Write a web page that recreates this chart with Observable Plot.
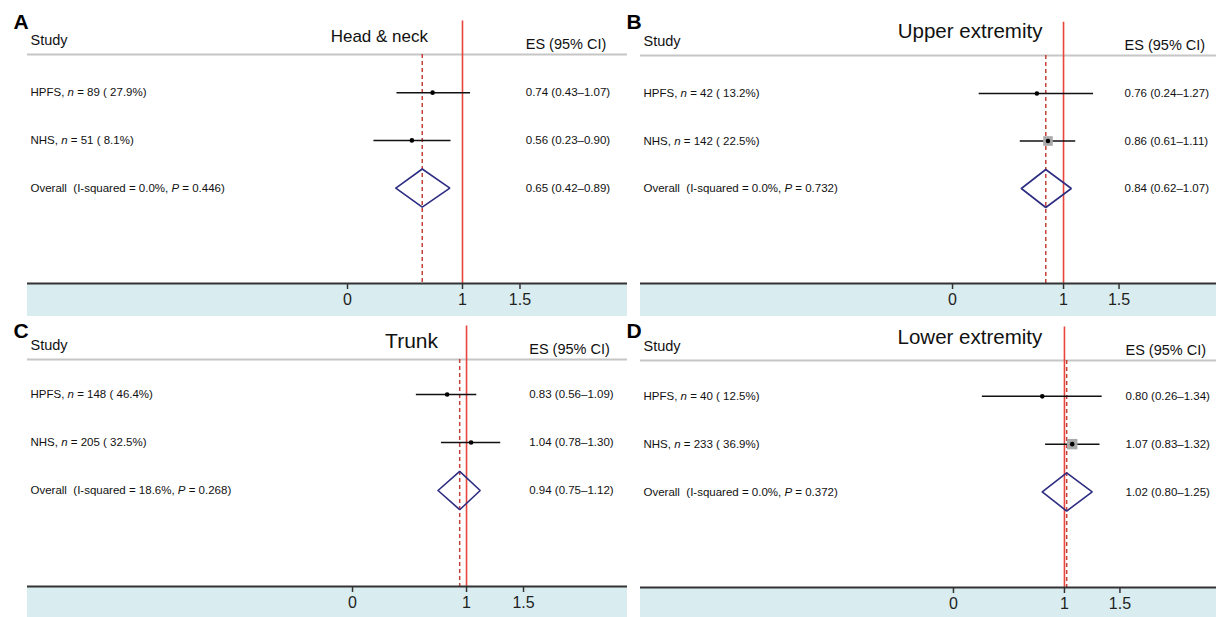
<!DOCTYPE html>
<html><head><meta charset="utf-8">
<script src="https://cdn.jsdelivr.net/npm/d3@7"></script>
<script src="https://cdn.jsdelivr.net/npm/@observablehq/plot@0.6"></script>
<style>
html,body{margin:0;padding:0;background:#fff;}
#chart{position:relative;width:1216px;height:617px;overflow:hidden;font-family:"Liberation Sans",Arial,Helvetica,sans-serif;}
#chart svg{position:absolute;overflow:visible;}
#chart svg text{white-space:pre;}
</style></head><body><div id="chart"></div>
<script>
// ---- data ----
const panelLetters = ["A", "B", "C", "D"];
const panelTitles = ["Head & neck", "Upper extremity", "Trunk", "Lower extremity"];
const studies = ["HPFS", "NHS"];
const studyN = [[89, 51], [42, 142], [148, 205], [40, 233]];
const studyPct = [["27.9%", "8.1%"], ["13.2%", "22.5%"], ["46.4%", "32.5%"], ["12.5%", "36.9%"]];
const studyES = [[0.74, 0.56], [0.76, 0.86], [0.83, 1.04], [0.80, 1.07]];
const studyLo = [[0.43, 0.23], [0.24, 0.61], [0.56, 0.78], [0.26, 0.83]];
const studyHi = [[1.07, 0.90], [1.27, 1.11], [1.09, 1.30], [1.34, 1.32]];
const studyWeight = [[52, 48], [20, 80], [49, 51], [17, 83]];
const overallISq = ["0.0%", "0.0%", "18.6%", "0.0%"];
const overallP = ["0.446", "0.732", "0.268", "0.372"];
const overallES = [0.65, 0.84, 0.94, 1.02];
const overallLo = [0.42, 0.62, 0.75, 0.80];
const overallHi = [0.89, 1.07, 1.12, 1.25];
const xTicks = [0, 1, 1.5];
const nullValue = 1;
const esHeader = "ES (95% CI)";
const studyHeader = "Study";

// ---- layout (page geometry) ----
const layout = [
  {left: 0,   top: 0,   width: 627, height: 316, marginTop: 54, marginBottom: 33, xDomain: [-2.783, 2.435], yDomain: [0.2, 5],  titleX: 0.70, titleDy: -13, titleSize: 17,   letterDy: -26},
  {left: 613, top: 0,   width: 603, height: 316, marginTop: 55, marginBottom: 33, xDomain: [-2.811, 2.378], yDomain: [0.2, 5],  titleX: 0.81, titleDy: -18, titleSize: 20.5, letterDy: -27},
  {left: 0,   top: 316, width: 627, height: 301, marginTop: 43, marginBottom: 31, xDomain: [-2.851, 2.412], yDomain: [0.27, 5], titleX: 0.75, titleDy: -12, titleSize: 21,   letterDy: -22},
  {left: 613, top: 316, width: 603, height: 301, marginTop: 44, marginBottom: 30, xDomain: [-2.82, 2.37],   yDomain: [0.25, 5], titleX: 0.80, titleDy: -17, titleSize: 20.5, letterDy: -23}
];
const esColumn = 1.55;       // x position (data units) of the ES column
const diamondHalf = 0.4;     // half height of the pooled diamond, in row units

const f2 = d3.format(".2f");
const esText = (e, l, h) => `${f2(e)} (${f2(l)}\u2013${f2(h)})`;
const SVGNS = "http://www.w3.org/2000/svg";

const chart = document.getElementById("chart");

panelLetters.forEach((letter, p) => {
  const L = layout[p];
  const rows = studies.map((s, i) => ({
    row: i + 1,
    label: `${s}, n = ${studyN[p][i]} ( ${studyPct[p][i]})`,
    es: studyES[p][i], lo: studyLo[p][i], hi: studyHi[p][i],
    weight: studyWeight[p][i],
    esLabel: esText(studyES[p][i], studyLo[p][i], studyHi[p][i])
  }));
  const overallRow = studies.length + 1;
  const overall = [{
    row: overallRow,
    label: `Overall  (I-squared = ${overallISq[p]}, P = ${overallP[p]})`,
    es: overallES[p], lo: overallLo[p], hi: overallHi[p],
    esLabel: esText(overallES[p], overallLo[p], overallHi[p])
  }];
  const diamond = [
    {x: overallLo[p], y: overallRow},
    {x: overallES[p], y: overallRow - diamondHalf},
    {x: overallHi[p], y: overallRow},
    {x: overallES[p], y: overallRow + diamondHalf},
    {x: overallLo[p], y: overallRow}
  ];
  const allRows = rows.concat(overall);

  const shading = (index, scales, values, dims) => {
    const r = document.createElementNS(SVGNS, "rect");
    r.setAttribute("x", dims.marginLeft);
    r.setAttribute("y", dims.height - dims.marginBottom);
    r.setAttribute("width", dims.width - dims.marginLeft - dims.marginRight);
    r.setAttribute("height", dims.marginBottom);
    r.setAttribute("fill", "#d9edf0");
    return r;
  };

  const svg = Plot.plot({
    width: L.width,
    height: L.height,
    marginLeft: 27,
    marginRight: 0,
    marginTop: L.marginTop,
    marginBottom: L.marginBottom,
    style: {background: "none", fontFamily: '"Liberation Sans", Arial, sans-serif', fontSize: "16px", color: "#222", overflow: "visible"},
    x: {domain: L.xDomain},
    y: {domain: L.yDomain, reverse: true, axis: null},
    r: {type: "linear", domain: [45, 85], range: [0, 6.2], clamp: true},
    marks: [
      shading,
      Plot.ruleY([L.yDomain[0]], {stroke: "#c6c6c6", strokeWidth: 2}),
      Plot.ruleX([nullValue], {y1: L.yDomain[0] - 0.7, y2: L.yDomain[1], stroke: "#e8453c", strokeWidth: 1.6}),
      Plot.ruleX(overall, {x: "es", stroke: "#c4413a", strokeWidth: 1.5, strokeDasharray: "4,3"}),
      Plot.ruleY(rows, {y: "row", x1: "lo", x2: "hi", stroke: "#111", strokeWidth: 1.5}),
      Plot.dot(rows, {x: "es", y: "row", r: "weight", symbol: "square", fill: "#aaaaaa", stroke: null}),
      Plot.dot(rows, {x: "es", y: "row", r: 2.3, fill: "#000", stroke: null}),
      Plot.line(diamond, {x: "x", y: "y", stroke: "#2d2d82", strokeWidth: 1.6, strokeLinejoin: "miter"}),
      Plot.text(allRows, {y: "row", text: "label", frameAnchor: "left", dx: 3, textAnchor: "start", fontSize: 11.5, fill: "#111"}),
      Plot.text(allRows, {y: "row", x: () => esColumn, text: "esLabel", textAnchor: "start", fontSize: 11.5, fill: "#111"}),
      Plot.text([studyHeader], {frameAnchor: "top-left", dx: 3, dy: -10, textAnchor: "start", lineAnchor: "bottom", fontSize: 14.5, fill: "#111"}),
      Plot.text([esHeader], {x: () => esColumn, frameAnchor: "top", dy: -6, textAnchor: "start", lineAnchor: "bottom", fontSize: 14.5, fill: "#111"}),
      Plot.text([panelTitles[p]], {x: () => L.titleX, frameAnchor: "top", dy: L.titleDy, textAnchor: "end", lineAnchor: "bottom", fontSize: L.titleSize, fill: "#111"}),
      Plot.text([letter], {frameAnchor: "top-left", dx: -14, dy: L.letterDy, textAnchor: "start", lineAnchor: "bottom", fontSize: 21, fontWeight: "bold", fill: "#000"}),
      Plot.ruleY([L.yDomain[1]], {stroke: "#333", strokeWidth: 2}),
      Plot.axisX({ticks: xTicks, tickFormat: (d) => String(d), tickSize: 6, tickPadding: 4, fontSize: 16, label: null, stroke: "#333", strokeWidth: 1.5})
    ]
  });

  // italicise the statistical symbols n and P
  d3.select(svg).selectAll("text").each(function () {
    const s = this.textContent;
    if (!/^(HPFS|NHS|Overall)/.test(s)) return;
    const parts = s.split(/(\bn(?= =)|\bP(?= =))/);
    while (this.firstChild) this.removeChild(this.firstChild);
    for (const part of parts) {
      if (!part) continue;
      const t = document.createElementNS(SVGNS, "tspan");
      t.textContent = part;
      if (part === "n" || part === "P") t.setAttribute("font-style", "italic");
      this.appendChild(t);
    }
  });

  svg.style.left = L.left + "px";
  svg.style.top = L.top + "px";
  chart.appendChild(svg);
});
</script>
</body></html>
